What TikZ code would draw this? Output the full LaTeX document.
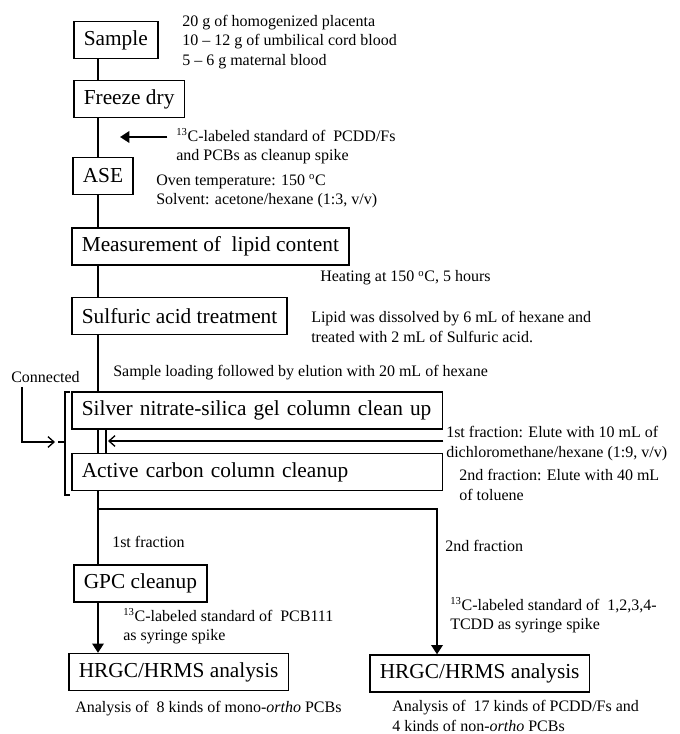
\documentclass[tikz,border=0pt]{standalone}
\usepackage{fontspec}
\setmainfont{Liberation Serif}
\usetikzlibrary{arrows.meta}

\begin{document}
\begin{tikzpicture}[x=0.75pt, y=-0.75pt,
    stepbox/.style={draw, line width=1.2pt, anchor=west, minimum height=27.5pt,
      inner xsep=7.5pt, font=\fontsize{16}{19}\selectfont},
    widebox/.style={stepbox, text width=263pt, align=left},
    note/.style={anchor=west, inner sep=0pt, align=left, font=\fontsize{12}{14.4}\selectfont},
    flow/.style={line width=2.2pt},
    flowarrow/.style={flow, -{Triangle[length=7pt,width=8.5pt]}},
    pair/.style={line width=1pt},
    feed/.style={line width=1pt, -{Straight Barb[length=4.5pt,width=8pt]}},
    bracket/.style={line width=1pt}]
  \useasboundingbox (0,0) rectangle (679,734);
  \coordinate (spine) at (98,0);
  \coordinate (spinetwo) at (106,0);

  % process steps
  \node[stepbox] (sample)   at (73,40)    {Sample};
  \node[stepbox] (freeze)   at (73,99)    {Freeze dry};
  \node[stepbox] (ase)      at (72,176)   {ASE};
  \node[stepbox] (measure)  at (71,246.5) {Measurement of~ lipid content};
  \node[stepbox] (sulfuric) at (71,316)   {Sulfuric acid treatment};
  \node[widebox] (silver)   at (71,410.5) {Silver nitrate-silica gel column clean up};
  \node[widebox] (active)   at (71,472)   {Active carbon column cleanup};
  \node[stepbox] (gpc)      at (73,583.5) {GPC cleanup};
  \node[stepbox] (hrgcl)    at (68,672)   {HRGC/HRMS analysis};
  \node[stepbox] (hrgcr)    at (369,673.5){HRGC/HRMS analysis};

  % side notes
  \node[note] (sampleinfo) at (182,42) {20 g of homogenized placenta\\10 -- 12 g of umbilical cord blood\\5 -- 6 g maternal blood};
  \node[note] (spike)      at (176,146) {\textsuperscript{13}C-labeled standard of~ PCDD/Fs\\and PCBs as cleanup spike};
  \node[note] (oven)       at (156,191) {Oven temperature: 150 \textsuperscript{o}C\\Solvent: acetone/hexane (1:3, v/v)};
  \node[note] (heating)    at (320,278) {Heating at 150 \textsuperscript{o}C, 5 hours};
  \node[note] (lipid)      at (311,327) {Lipid was dissolved by 6 mL of hexane and\\treated with 2 mL of Sulfuric acid.};
  \node[note] (connected)  at (11,377)  {Connected};
  \node[note] (loading)    at (113,373) {Sample loading followed by elution with 20 mL of hexane};
  \node[note] (fracone)    at (446,443.5) {1st fraction: Elute with 10 mL of\\dichloromethane/hexane (1:9, v/v)};
  \node[note] (fractwo)    at (459,485) {2nd fraction: Elute with 40 mL\\of toluene};
  \node[note] (firstlbl)   at (112,542) {1st fraction};
  \node[note] (secondlbl)  at (445,546) {2nd fraction};
  \node[note] (pcbspike)   at (123,626) {\textsuperscript{13}C-labeled standard of~ PCB111\\as syringe spike};
  \node[note] (tcddspike)  at (450,615) {\textsuperscript{13}C-labeled standard of~ 1,2,3,4-\\TCDD as syringe spike};
  \node[note] (anaeight)   at (75,709)  {Analysis of~ 8 kinds of mono-\textit{ortho} PCBs};
  \node[note] (anaseventeen) at (392,716) {Analysis of~ 17 kinds of PCDD/Fs and\\4 kinds of non-\textit{ortho} PCBs};

  % main line
  \draw[flow] (sample.south -| spine) -- (freeze.north -| spine);
  \draw[flow] (freeze.south -| spine) -- (ase.north -| spine);
  \draw[flow] (ase.south -| spine) -- (measure.north -| spine);
  \draw[flow] (measure.south -| spine) -- (sulfuric.north -| spine);
  \draw[flow] (sulfuric.south -| spine) -- (silver.north -| spine);
  \draw[pair] (silver.south -| spine) -- (active.north -| spine);
  \draw[pair] (silver.south -| spinetwo) -- (active.north -| spinetwo);
  \draw[flow] (active.south -| spine) -- (gpc.north -| spine);
  \draw[flowarrow] (gpc.south -| spine) -- (hrgcl.north -| spine);

  % second fraction branch
  \coordinate (fork) at (98,509);
  \coordinate (turn) at (437,509);
  \draw[flowarrow] (fork) -- (turn) -- (hrgcr.north -| turn);

  % spikes and eluents
  \coordinate (spiketip) at (120,137);
  \draw[flowarrow, shorten <=6.5pt] (spike.west |- spiketip) -- (spiketip);
  \coordinate (elutip) at (108,441);
  \draw[feed] (silver.east |- elutip) -- (elutip);

  % connected columns
  \draw[bracket] (70,392) -- (65,392) -- (65,495) -- (70,495) (65,442) -- (58,442);
  \coordinate (conbend) at (22,442);
  \coordinate (contip) at (55,442);
  \draw[feed, shorten <=3pt] (connected.south -| conbend) -- (conbend) -- (contip);
\end{tikzpicture}
\end{document}
